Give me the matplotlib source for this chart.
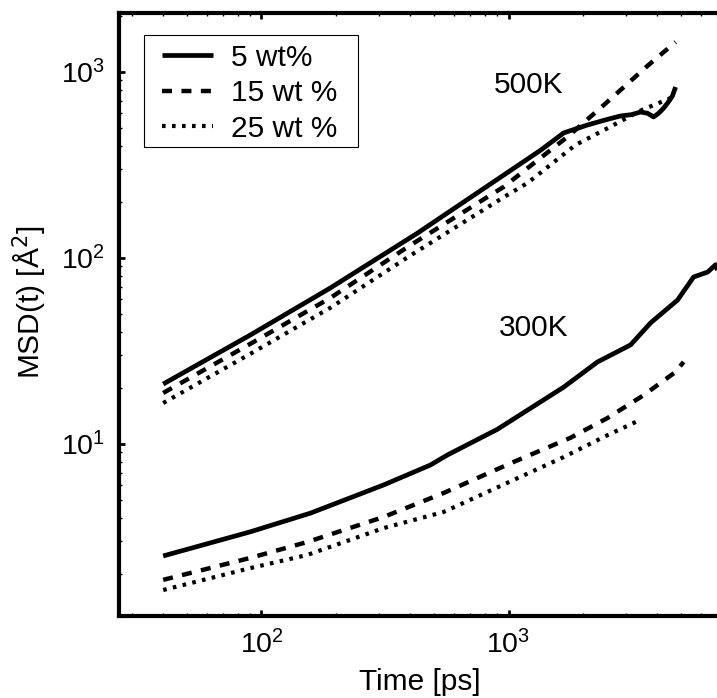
import matplotlib
matplotlib.use("Agg")
import matplotlib.pyplot as plt
from matplotlib.patches import Rectangle

plt.rcParams['font.family'] = ['Liberation Sans', 'DejaVu Sans']
plt.rcParams['lines.scale_dashes'] = False

# MSD(t) curves, time in ps, MSD in Angstrom^2
t_500_5 = [40, 90, 190, 428, 929, 1350, 1671, 2089, 2500, 2838, 3150, 3420, 3650, 3864, 4050, 4250, 4404, 4600, 4745]
v_500_5 = [21.0, 38.5, 69, 136, 272, 380, 470, 519, 555, 580, 590, 609, 600, 573, 600, 640, 681, 740, 830]

t_500_15 = [40, 90, 190, 400, 955, 1750, 2355, 3655, 4745]
v_500_15 = [18.8, 34.5, 61, 117, 241, 453, 640, 1080, 1449]

t_500_25 = [40, 90, 190, 400, 960, 1194, 1866, 2762, 3420, 4600]
v_500_25 = [16.6, 30.5, 54, 103, 213, 253, 405, 532, 620, 730]

t_300_5 = [40, 90, 158, 312, 483, 566, 902, 1671, 2291, 3119, 3760, 4832, 5610, 6400, 6890, 7000]
v_300_5 = [2.50, 3.37, 4.25, 6.02, 7.71, 8.73, 12.0, 20.2, 27.6, 34.1, 44.8, 59.4, 79, 84, 92, 86]

t_300_15 = [40, 90, 153, 312, 546, 1047, 1782, 2518, 3524, 4121, 4745, 5112]
v_300_15 = [1.86, 2.44, 2.97, 4.05, 5.45, 8.0, 10.8, 13.8, 18.3, 21.3, 24.4, 27.6]

t_300_25 = [40, 90, 153, 312, 546, 1047, 1671, 2427, 3420]
v_300_25 = [1.64, 2.15, 2.53, 3.53, 4.31, 6.4, 8.5, 10.9, 13.5]

labels = ['5 wt%', '15 wt %', '25 wt %']
temps = ['500K', '300K']

fig = plt.figure(figsize=(7.17, 6.98), dpi=100)
ax = fig.add_axes([119 / 717, 82 / 698, 602 / 717, 603 / 698])
ax.set_xscale('log')
ax.set_yscale('log')

solid = dict(color='black', lw=3.4, solid_capstyle='butt', solid_joinstyle='round')
dashed = dict(color='black', lw=3.2, dashes=(7.2, 6.8), dash_capstyle='butt')
dotted = dict(color='black', lw=3.0, dashes=(2.6, 4.6), dash_capstyle='butt')

h1, = ax.plot(t_500_5, v_500_5, **solid, label=labels[0])
h2, = ax.plot(t_500_15, v_500_15, **dashed, label=labels[1])
h3, = ax.plot(t_500_25, v_500_25, **dotted, label=labels[2])
ax.plot(t_300_5, v_300_5, **solid)
ax.plot(t_300_15, v_300_15, **dashed)
ax.plot(t_300_25, v_300_25, **dotted)

ax.set_xlim(26.5, 7244)
ax.set_ylim(1.189, 2075)

ax.text(873, 771, temps[0], fontsize=21.5, ha='left', va='baseline')
ax.text(916, 38.1, temps[1], fontsize=21.5, ha='left', va='baseline')

for sp in ax.spines.values():
    sp.set_linewidth(3.0)

ax.tick_params(which='major', direction='in', length=4.5, width=2, labelsize=20.5,
               pad=10, top=True, right=False)
ax.tick_params(which='minor', direction='in', length=2.5, width=1, top=True, right=False)

ax.set_xlabel('Time [ps]', fontsize=21.5)
ax.set_ylabel('MSD(t) [Å$^2$]', fontsize=21.5)
ax.xaxis.set_label_coords(0.5, -0.086)
ax.xaxis.label.set_va('top')
ax.yaxis.set_label_coords(-0.116, 0.52)

# legend box
ax.add_patch(Rectangle((0.0415, 0.7778), 0.397 - 0.0415, 0.9635 - 0.7778,
                       transform=ax.transAxes, facecolor='white', edgecolor='black',
                       lw=0.8, zorder=5))
leg = ax.legend(handles=[h1, h2, h3], loc='upper left', bbox_to_anchor=(0.0714, 0.949),
                frameon=False, borderaxespad=0, borderpad=0, handlelength=1.7,
                handletextpad=0.6, labelspacing=0.25, fontsize=21.5)
leg.set_zorder(6)

fig.savefig('out.png', dpi=100)
